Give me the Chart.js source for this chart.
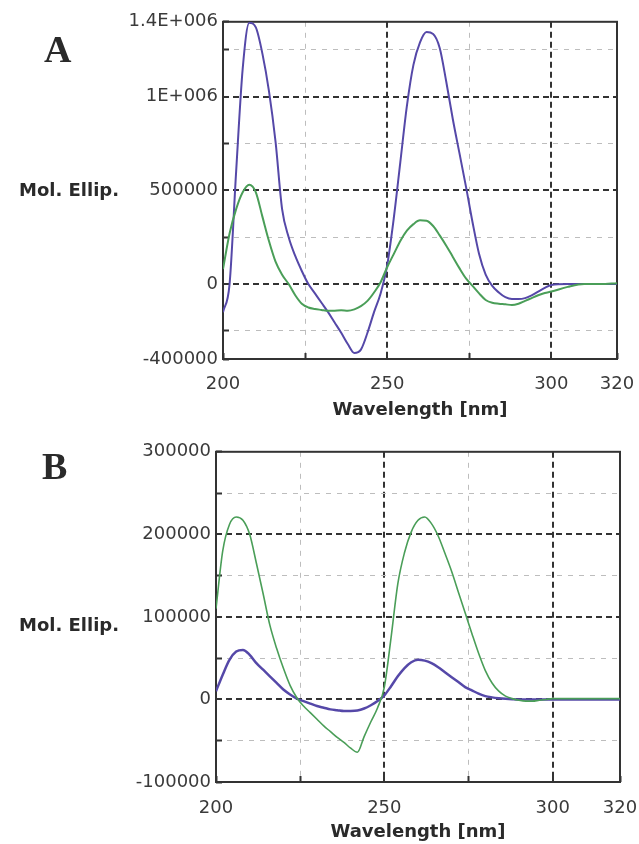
<!DOCTYPE html>
<html>
<head>
<meta charset="utf-8">
<script src="https://cdn.jsdelivr.net/npm/chart.js@4.4.1/dist/chart.umd.min.js"></script>
<style>
  body { margin: 0; background: #fff; }
  #wrap { position: relative; width: 639px; height: 844px; overflow: hidden; }
  canvas { position: absolute; left: 0; }
  .panel { position: absolute; font-family: "Liberation Serif", serif; font-weight: bold; font-size: 38px; color: #2a2a2a; line-height: 1; }
  .ylab { position: absolute; font-family: "DejaVu Sans", sans-serif; font-weight: bold; font-size: 18px; color: #2a2a2a; line-height: 1; }
</style>
</head>
<body>
<div id="wrap">
  <canvas id="chartA" width="639" height="430" style="top:0"></canvas>
  <canvas id="chartB" width="639" height="414" style="top:430px"></canvas>
  <div class="panel" style="left:44px; top:30px">A</div>
  <div class="panel" style="left:42px; top:447px">B</div>
  <div class="ylab" style="left:19px; top:181px">Mol. Ellip.</div>
  <div class="ylab" style="left:19px; top:616px">Mol. Ellip.</div>
</div>
<script>
// wavelength grid (nm) shared by all four curves
const wavelengths = [200, 202, 204, 206, 208, 210, 212, 214, 216, 218, 220, 222, 224, 226, 228, 230,
  232, 234, 236, 238, 240, 242, 244, 246, 248, 250, 252, 254, 256, 258, 260, 262, 264, 266, 268, 270,
  272, 274, 276, 278, 280, 282, 284, 286, 288, 290, 292, 294, 296, 298, 300, 305, 310, 315, 320];

// Panel A - molar ellipticity
const ellipA_blue = [-150000, 0, 600000, 1150000, 1395000, 1370000, 1230000, 1030000, 760000, 400000,
  250000, 150000, 70000, 0, -50000, -100000, -150000, -205000, -260000, -320000, -368000, -350000,
  -260000, -150000, -50000, 100000, 350000, 650000, 950000, 1170000, 1290000, 1345000, 1335000,
  1260000, 1080000, 880000, 700000, 520000, 330000, 160000, 50000, -10000, -45000, -70000, -80000,
  -80000, -75000, -60000, -40000, -20000, -5000, 0, 0, 0, 0];
const ellipA_green = [80000, 270000, 400000, 490000, 530000, 490000, 360000, 230000, 120000, 50000,
  0, -60000, -105000, -125000, -133000, -138000, -143000, -142000, -140000, -142000, -135000, -118000,
  -90000, -45000, 10000, 90000, 160000, 230000, 285000, 320000, 340000, 338000, 310000, 260000,
  205000, 145000, 85000, 30000, -10000, -50000, -85000, -100000, -105000, -108000, -112000, -105000,
  -90000, -75000, -60000, -48000, -40000, -15000, 0, 0, 5000];

// Panel B - molar ellipticity
const ellipB_blue = [10000, 30000, 48000, 58000, 60000, 54000, 44000, 36000, 28000, 20000, 12000,
  6000, 1000, -2000, -5000, -8000, -10000, -12000, -13000, -14000, -14000, -13500, -11000, -7000,
  -2000, 5000, 16000, 28000, 38000, 45000, 48000, 47000, 44000, 39000, 33000, 27000, 21000, 15000,
  11000, 7000, 4000, 2500, 1500, 800, 300, 0, 0, 0, 0, 0, 0, 0, 0, 0, 0];
const ellipB_green = [110000, 180000, 212000, 221000, 217000, 200000, 165000, 128000, 90000, 62000,
  38000, 17000, 2000, -8000, -16000, -24000, -32000, -39000, -46000, -52000, -59000, -64000, -45000,
  -27000, -10000, 15000, 75000, 140000, 178000, 203000, 217000, 221000, 213000, 198000, 177000,
  155000, 130000, 105000, 80000, 56000, 35000, 20000, 10000, 4000, 1000, -1000, -2000, -2000, -1000,
  0, 1000, 1000, 1000, 1000, 1000];

// axis ticks
const xTicks = [200, 225, 250, 275, 300, 320];
const xLabelled = [200, 250, 300, 320];
const xMajor = [250, 300];
const yTicksA = [-400000, -250000, 0, 250000, 500000, 750000, 1000000, 1250000, 1400000];
const yLabelsA = { '-400000': '-400000', '0': '0', '500000': '500000', '1000000': '1E+006', '1400000': '1.4E+006' };
const yMajorA = [0, 500000, 1000000];
const yTicksB = [-100000, -50000, 0, 50000, 100000, 150000, 200000, 250000, 300000];
const yLabelsB = { '-100000': '-100000', '0': '0', '100000': '100000', '200000': '200000', '300000': '300000' };
const yMajorB = [0, 100000, 200000];

const BLUE = '#5548a8';
const GREEN = '#4a9e58';
const DARK = '#333333';
const LIGHT = '#bdbdbd';
const tickFont = { family: 'DejaVu Sans', size: 18 };

// solid frame round the plot area
const framePlugin = {
  id: 'frame',
  beforeDatasetsDraw(chart) {
    const { ctx, chartArea: a } = chart;
    ctx.save();
    ctx.strokeStyle = DARK;
    ctx.lineWidth = 2;
    ctx.strokeRect(a.left, a.top, a.right - a.left, a.bottom - a.top);
    ctx.restore();
  }
};

function points(ys) {
  return wavelengths.map((x, i) => ({ x: x, y: ys[i] }));
}

function makeChart(id, cfg) {
  const gridColor = (major, ends) => (c) => {
    const v = c.tick ? c.tick.value : null;
    if (ends.includes(v)) return 'rgba(0,0,0,0)';
    return major.includes(v) ? DARK : LIGHT;
  };
  const gridWidth = (major) => (c) => (c.tick && major.includes(c.tick.value) ? 2 : 1);
  const gridDash = (major) => (c) => (c.tick && major.includes(c.tick.value) ? [6, 4] : [5, 6]);

  return new Chart(document.getElementById(id), {
    type: 'line',
    data: {
      datasets: [
        { data: points(cfg.green), borderColor: GREEN, borderWidth: cfg.greenWidth, pointRadius: 0, cubicInterpolationMode: 'monotone' },
        { data: points(cfg.blue), borderColor: BLUE, borderWidth: cfg.blueWidth, pointRadius: 0, cubicInterpolationMode: 'monotone' }
      ]
    },
    options: {
      responsive: false,
      animation: false,
      layout: { padding: cfg.padding },
      plugins: { legend: { display: false }, tooltip: { enabled: false } },
      scales: {
        x: {
          type: 'linear', min: 200, max: 320,
          afterBuildTicks: (s) => { s.ticks = xTicks.map(v => ({ value: v })); },
          afterFit: (s) => { s.height = cfg.xHeight; s.paddingLeft = 0; s.paddingRight = 0; },
          ticks: {
            font: tickFont, color: '#3a3a3a', padding: cfg.xTickPad, maxRotation: 0, autoSkip: false,
            callback: (v) => (xLabelled.includes(v) ? String(v) : '')
          },
          grid: { color: gridColor(xMajor, [200, 320]), lineWidth: gridWidth(xMajor), tickLength: -6, tickColor: DARK, tickWidth: 2, tickBorderDash: [] },
          border: { display: false, dash: gridDash(xMajor) },
          title: { display: true, text: 'Wavelength [nm]', font: { family: 'DejaVu Sans', size: 18, weight: 'bold' }, color: '#2a2a2a', padding: { top: 0, bottom: cfg.titlePad } }
        },
        y: {
          type: 'linear', min: cfg.yTicks[0], max: cfg.yTicks[cfg.yTicks.length - 1],
          afterBuildTicks: (s) => { s.ticks = cfg.yTicks.map(v => ({ value: v })); },
          afterFit: (s) => { s.width = cfg.yWidth; },
          ticks: {
            font: tickFont, color: '#3a3a3a', padding: 11, autoSkip: false,
            callback: (v) => cfg.yLabels[String(v)] || ''
          },
          grid: { color: gridColor(cfg.yMajor, [cfg.yTicks[0], cfg.yTicks[cfg.yTicks.length - 1]]), lineWidth: gridWidth(cfg.yMajor), tickLength: -6, tickColor: DARK, tickWidth: 2, tickBorderDash: [] },
          border: { display: false, dash: gridDash(cfg.yMajor) }
        }
      }
    },
    plugins: [framePlugin]
  });
}

makeChart('chartA', {
  blue: ellipA_blue, green: ellipA_green, blueWidth: 2, greenWidth: 2,
  yTicks: yTicksA, yLabels: yLabelsA, yMajor: yMajorA,
  padding: { left: 0, top: 21, right: 22, bottom: 0 },
  yWidth: 223, xHeight: 71, xTickPad: 21, titlePad: 9
});

makeChart('chartB', {
  blue: ellipB_blue, green: ellipB_green, blueWidth: 2.5, greenWidth: 1.6,
  yTicks: yTicksB, yLabels: yLabelsB, yMajor: yMajorB,
  padding: { left: 0, top: 16, right: 19, bottom: 0 },
  yWidth: 216, xHeight: 62, xTickPad: 22, titlePad: 1
});
</script>
</body>
</html>
